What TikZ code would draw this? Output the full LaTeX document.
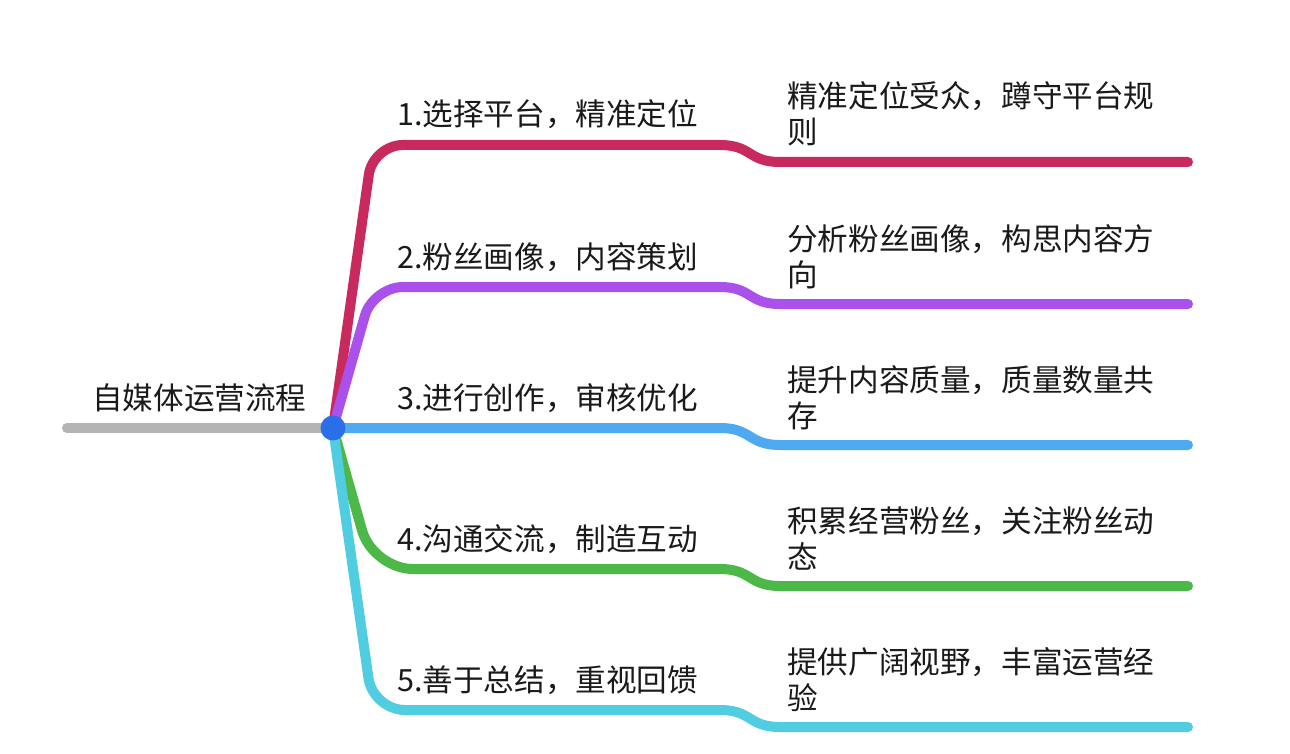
\documentclass[tikz,border=0pt]{standalone}
\usepackage{fontspec}
\setmainfont{Noto Sans CJK SC}
\definecolor{cA}{HTML}{C82A5E}
\definecolor{cB}{HTML}{AA50EB}
\definecolor{cC}{HTML}{4EAAF0}
\definecolor{cD}{HTML}{4CB848}
\definecolor{cE}{HTML}{50CDE1}
\definecolor{cRoot}{HTML}{B4B4B4}
\definecolor{cHub}{HTML}{2A6EE8}
\definecolor{txt}{HTML}{1A1A1A}
\begin{document}
\begin{tikzpicture}[x=1pt,y=-1pt,
  branchline/.style={line width=10pt,line cap=round,line join=round},
  lbl/.style={anchor=base west,inner sep=0pt,font=\fontsize{30.6}{36}\selectfont,text=txt},
  sublbl/.style={lbl,align=left}]
\fill[white] (0,0) rectangle (1290,754);
\useasboundingbox (0,0) rectangle (1290,754);
% hub and root
\coordinate (hubc) at (333,428);
\coordinate (rootstart) at (67,428);
\node[lbl] (root) at (92,409) {自媒体运营流程};
\draw[branchline,cRoot] (rootstart) -- (hubc);
% branch geometry
\foreach \n/\Y/\col/\r in {1/145/cA/30,2/287/cB/30,4/569/cD/40,5/710/cE/32}{
  \coordinate (b\n k) at (373,\Y);
  \coordinate (b\n b) at (720,\Y);
  \coordinate (b\n c) at (780,\Y+17);
  \coordinate (b\n d) at (1188,\Y+17);
  \draw[branchline,\col,rounded corners=\r] (hubc) -- (b\n k) -- (b\n b);
  \draw[branchline,\col] (b\n b) .. controls (752,\Y) and (748,\Y+17) .. (b\n c) -- (b\n d);
}
\coordinate (b3b) at (720,428);
\coordinate (b3c) at (780,445);
\coordinate (b3d) at (1188,445);
\draw[branchline,cC] (hubc) -- (b3b) .. controls (752,428) and (748,445) .. (b3c) -- (b3d);
\node[circle,fill=cHub,minimum size=25pt,inner sep=0pt] (hub) at (hubc) {};
% labels
\node[lbl] (l1) at (397,126) {1.选择平台，精准定位};
\node[lbl] (l2) at (397,268) {2.粉丝画像，内容策划};
\node[lbl] (l3) at (397,409) {3.进行创作，审核优化};
\node[lbl] (l4) at (397,550) {4.沟通交流，制造互动};
\node[lbl] (l5) at (397,691) {5.善于总结，重视回馈};
\node[sublbl] (s1) at (787,144) {精准定位受众，蹲守平台规\\则};
\node[sublbl] (s2) at (787,286) {分析粉丝画像，构思内容方\\向};
\node[sublbl] (s3) at (787,427) {提升内容质量，质量数量共\\存};
\node[sublbl] (s4) at (787,568) {积累经营粉丝，关注粉丝动\\态};
\node[sublbl] (s5) at (787,709) {提供广阔视野，丰富运营经\\验};
\end{tikzpicture}
\end{document}
